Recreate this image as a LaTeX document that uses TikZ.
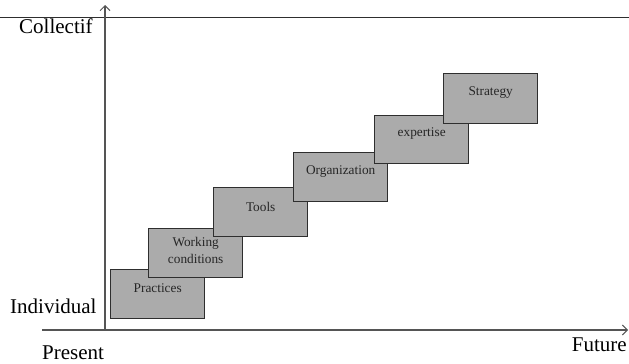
\documentclass[tikz,border=0pt]{standalone}
\usepackage{fontspec}
\setmainfont{Liberation Serif}
\usetikzlibrary{arrows.meta}
\definecolor{boxfill}{HTML}{ABABAB}
\definecolor{boxline}{HTML}{2E2E2E}
\definecolor{axisgray}{HTML}{555555}
\begin{document}
\begin{tikzpicture}[x=1pt,y=-1pt,
  stepbox/.style={draw=boxline,fill=boxfill,line width=1.4pt,
    minimum width=94pt,minimum height=49pt,inner sep=0pt,anchor=north west},
  boxtext/.style={font=\fontsize{13.3}{17}\selectfont,align=center,inner sep=0pt,text=black!85},
  axlabel/.style={font=\fontsize{21}{24}\selectfont,inner sep=0pt},
  axis/.style={draw=axisgray,line width=1.6pt,-{Straight Barb[length=5pt,width=10pt,line width=1pt]}}]
\useasboundingbox (0,0) rectangle (629,364);

% frame line along the top
\coordinate (tl) at (0,17);
\coordinate (tr) at (629,17);
\draw[boxline,line width=1pt] (tl) -- (tr);

% axes
\coordinate (vstart) at (105,330);
\coordinate (vend) at (105,5);
\coordinate (hstart) at (42,330);
\coordinate (hend) at (628,330);
\draw[axis,line width=1.3pt] (vstart) -- (vend);
\draw[axis] (hstart) -- (hend);

% axis labels
\node[axlabel,anchor=base west] (coll) at (19,33) {Collectif};
\node[axlabel,anchor=base west] (indiv) at (10,313) {Individual};
\node[axlabel,anchor=base west] (pres) at (42,359) {Present};
\node[axlabel,anchor=base east] (fut) at (627,351) {Future};

% the staircase of boxes, each drawn over the previous one
\node[stepbox] (prac) at (110,269) {};
\node[boxtext] (pracT) at ([yshift=-19.5pt]prac.north) {Practices};

\node[stepbox] (work) at (148,228) {};
\node[boxtext] (workT) at ([yshift=-22.5pt]work.north) {Working\\conditions};

\node[stepbox] (tools) at (213,187) {};
\node[boxtext] (toolsT) at ([yshift=-20pt]tools.north) {Tools};

\node[stepbox] (org) at (293,152) {};
\node[boxtext] (orgT) at ([yshift=-19.5pt]org.north) {Organization};

\node[stepbox,minimum height=48pt] (exp) at (374,115) {};
\node[boxtext] (expT) at ([yshift=-18.5pt]exp.north) {expertise};

\node[stepbox,minimum height=50pt] (strat) at (443,73) {};
\node[boxtext] (stratT) at ([yshift=-20pt]strat.north) {Strategy};
\end{tikzpicture}
\end{document}
